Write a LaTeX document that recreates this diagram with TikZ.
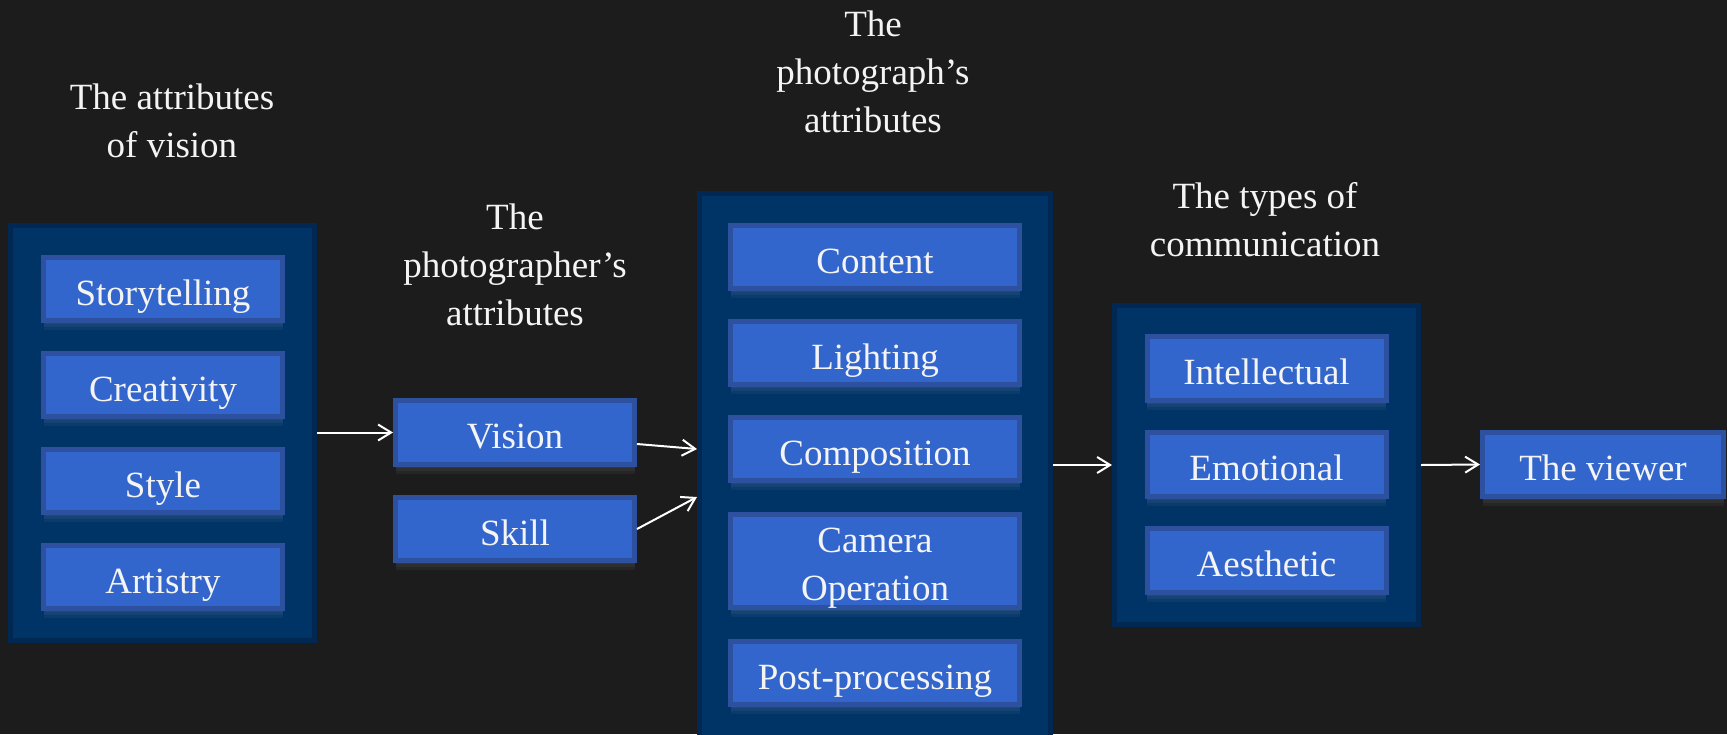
\documentclass[tikz,border=0pt]{standalone}
\usepackage{fontspec}
\setmainfont{Liberation Serif}
\usetikzlibrary{arrows.meta,shadows}
\definecolor{bgc}{HTML}{1C1C1C}
\definecolor{outerfill}{HTML}{003366}
\definecolor{outerline}{HTML}{002852}
\definecolor{innerfill}{HTML}{3366CC}
\definecolor{innerline}{HTML}{2D509F}
\definecolor{txt}{HTML}{F4F4F4}
\tikzset{
  glow/.style={general shadow={fill=white, fill opacity=0.045, draw=none, shadow yshift=-#1}},
  outerbox/.style={draw=outerline, fill=outerfill, line width=2.5pt, inner sep=0pt},
  innerbox/.style={draw=innerline, fill=innerfill, line width=2.5pt, text=txt, inner sep=0pt,
    minimum width=119.5pt, minimum height=31.5pt, align=center,
    text height=16pt, text depth=0pt,
    font=\fontsize{18.5}{24}\selectfont,
    glow=1.5pt, glow=3pt, glow=4.5pt},
  title/.style={text=txt, align=center, inner sep=0pt, font=\fontsize{18.5}{24}\selectfont},
  arr/.style={draw=white, line width=1pt, -{Straight Barb[length=6.5pt,width=8pt]}},
}
\begin{document}
\begin{tikzpicture}[x=0.5pt,y=-0.5pt]
\useasboundingbox (0,0) rectangle (1727,734);
\fill[bgc] (0,0) rectangle (1727,734);
\clip (0,0) rectangle (1727,734);

% titles
\node[title, anchor=base] (t1) at (172,157) {The attributes\\of vision};
\node[title, anchor=base] (t2) at (515,325) {The\\photographer’s\\attributes};
\node[title, anchor=base] (t3) at (873,132) {The\\photograph’s\\attributes};
\node[title, anchor=base] (t4) at (1265,256) {The types of\\communication};

% left group
\node[outerbox, minimum width=152pt, minimum height=207.5pt] (vis) at (162.5,433) {};
\node[innerbox] (story) at (163,289) {Storytelling};
\node[innerbox] (creat) at (163,385) {Creativity};
\node[innerbox] (style) at (163,481) {Style};
\node[innerbox] (art) at (163,577) {Artistry};

% photographer
\node[innerbox, minimum height=32pt] (vision) at (515,432.5) {Vision};
\node[innerbox] (skill) at (515,529) {Skill};

% photograph
\node[outerbox, minimum width=175.5pt, minimum height=274.5pt] (photo) at (875,468) {};
\node[innerbox, minimum width=144.5pt] (content) at (875,257) {Content};
\node[innerbox, minimum width=144.5pt] (light) at (875,353) {Lighting};
\node[innerbox, minimum width=144.5pt] (comp) at (875,449) {Composition};
\node[innerbox, minimum width=144.5pt, minimum height=46.5pt, text height=39.5pt] (cam) at (875,561) {Camera\\Operation};
\node[innerbox, minimum width=144.5pt] (post) at (875,673) {Post-processing};

% types
\node[outerbox, minimum width=152pt, minimum height=159.5pt] (types) at (1266.5,465) {};
\node[innerbox, minimum height=32pt] (intel) at (1266.5,368.5) {Intellectual};
\node[innerbox, minimum height=32pt] (emo) at (1266.5,464.5) {Emotional};
\node[innerbox, minimum height=32pt] (aes) at (1266.5,560.5) {Aesthetic};

% viewer
\node[innerbox, minimum width=120.5pt, minimum height=32pt] (viewer) at (1603,464.5) {The viewer};

% arrows
\draw[arr] (vis.east |- vision.west) -- (vision.west);
\draw[arr] ([yshift=-5.75pt]vision.east) -- ([yshift=9.5pt]photo.west);
\draw[arr] (skill.east) -- ([yshift=-14.5pt]photo.west);
\draw[arr] (photo.east |- types.west) -- (types.west);
\draw[arr] (types.east) -- (viewer.west);
\end{tikzpicture}
\end{document}
